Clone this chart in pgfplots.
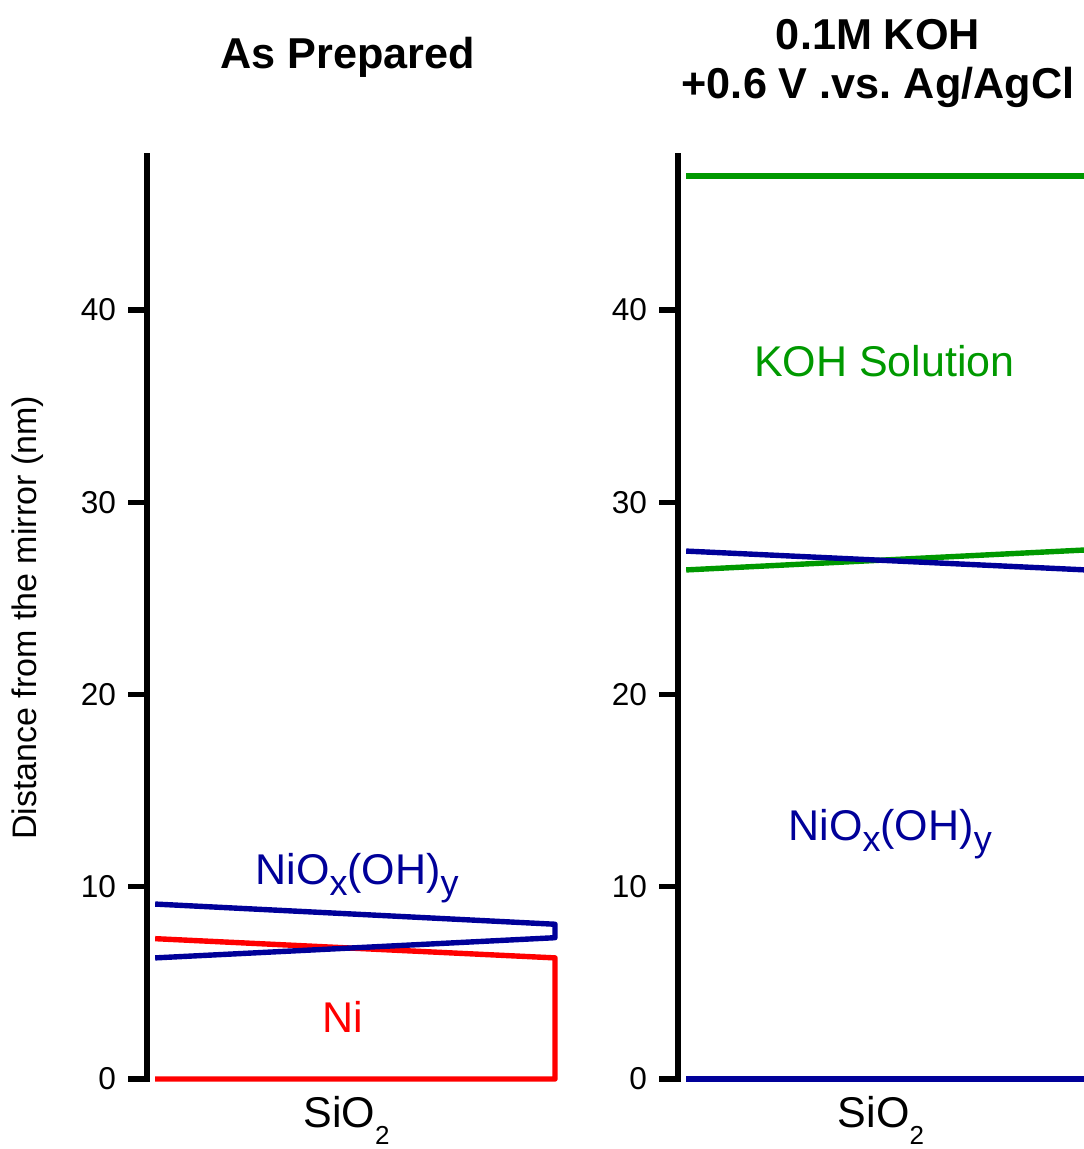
\documentclass[border=0pt]{standalone}
\usepackage{pgfplots}
\pgfplotsset{compat=1.18}
\usepackage{fontspec}
\setmainfont{Liberation Sans}
\frenchspacing
\definecolor{nblue}{RGB}{0,0,153}
\definecolor{ngreen}{RGB}{0,153,0}
\definecolor{nred}{RGB}{255,0,0}
\newcommand{\fs}[1]{\fontsize{#1}{#1}\selectfont}
\newcommand{\lsub}[1]{\raisebox{-5.5pt}{\fs{18pt}#1}}
\newcommand{\ssub}[1]{\raisebox{-8.5pt}{\fs{13pt}#1}}
\begin{document}
\begin{tikzpicture}
\pgfplotsset{
  panel/.style={
    scale only axis, width=204pt, height=461.4pt,
    anchor=south west, clip=false,
    xmin=0, xmax=1, ymin=0, ymax=48,
    axis y line=left, axis x line=none,
    y axis line style={line width=2.8pt, -, line cap=rect},
    ytick={0,10,20,30,40},
    tick align=outside, major tick length=9.5pt,
    major tick style={line width=2.6pt, black},
    yticklabel style={font=\fs{15.8pt}, xshift=-2.5pt},
    /pgf/number format/assume math mode=true,
  },
  dl/.style={line width=2.7pt, line join=round},
}
% left panel
\begin{axis}[panel, at={(73.5pt,-539.5pt)}]
\addplot[nred, dl] coordinates {(0.02,0) (1.0,0) (1.0,6.3) (0.02,7.3)};
\addplot[nblue, dl] coordinates {(0.02,6.3) (1.0,7.35) (1.0,8.05) (0.02,9.1)};
\node[anchor=base, text=nblue, font=\fs{21.5pt}] at (axis cs:0.515,10.14) {NiO\lsub{x}(OH)\lsub{y}};
\node[anchor=base, text=nred, font=\fs{21.5pt}] at (axis cs:0.48,2.44) {Ni};
\end{axis}
% right panel
\begin{axis}[panel, at={(339pt,-539.5pt)}]
\addplot[ngreen, dl] coordinates {(0.02,46.97) (1.0,46.97)};
\addplot[ngreen, dl] coordinates {(0.02,26.48) (1.0,27.52)};
\addplot[nblue, dl] coordinates {(0.02,27.46) (1.0,26.48)};
\addplot[nblue, dl] coordinates {(0.02,0) (1.0,0)};
\node[anchor=base, text=ngreen, font=\fs{21.5pt}] at (axis cs:0.506,36.53) {KOH Solution};
\node[anchor=base, text=nblue, font=\fs{21.5pt}] at (axis cs:0.52,12.43) {NiO\lsub{x}(OH)\lsub{y}};
\end{axis}
% titles and labels
\node[anchor=base, font=\fs{21.6pt}\bfseries] at (173.75pt,-34.5pt) {As Prepared};
\node[anchor=base, font=\fs{21.6pt}\bfseries] at (439pt,-25pt) {0.1M KOH};
\node[anchor=base, font=\fs{21.6pt}\bfseries] at (439pt,-49.35pt) {+0.6 V .vs. Ag/AgCl};
\node[anchor=base, font=\fs{21.5pt}] at (173.25pt,-563.5pt) {SiO\ssub{2}};
\node[anchor=base, font=\fs{21.5pt}] at (440.5pt,-563.5pt) {SiO\ssub{2}};
\node[rotate=90, font=\fs{17pt}] at (14pt,-309pt) {Distance from the mirror (nm)};
\pgfresetboundingbox
\path[use as bounding box] (0,0) rectangle (541.5pt,-574.5pt);
\end{tikzpicture}
\end{document}
